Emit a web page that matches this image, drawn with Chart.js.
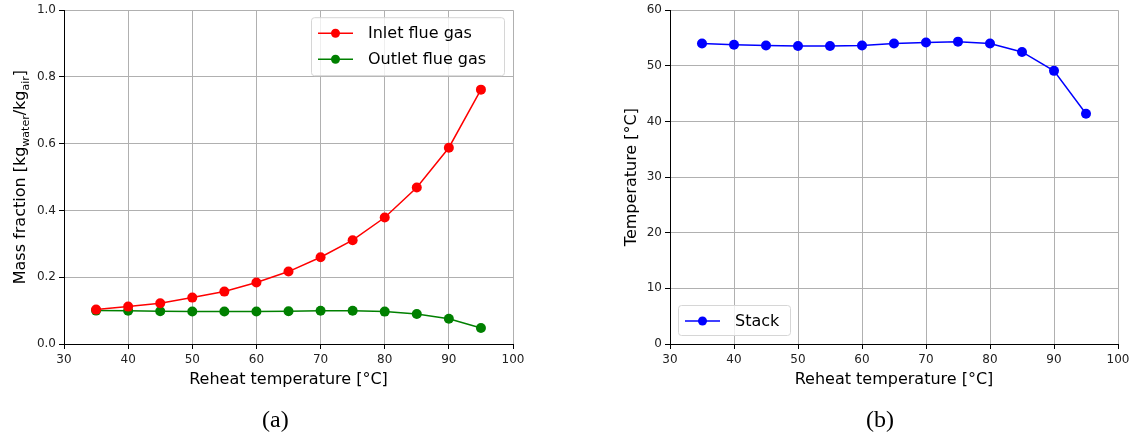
<!DOCTYPE html>
<html>
<head>
<meta charset="utf-8">
<script src="https://cdn.jsdelivr.net/npm/chart.js@4.4.1/dist/chart.umd.min.js"></script>
<style>
  html, body { margin: 0; padding: 0; background: #fff; }
  #wrap { position: relative; width: 1136px; height: 443px; overflow: hidden; }
  .panel { position: absolute; top: 0; width: 568px; height: 443px; }
  .caption { position: absolute; top: 406px; font-family: "Liberation Serif", "Times New Roman", serif; font-size: 24px; color: #000; }
</style>
</head>
<body>
<div id="wrap">
  <div class="panel" style="left:0"><canvas id="chart-a" width="568" height="443"></canvas></div>
  <div class="panel" style="left:568px"><canvas id="chart-b" width="568" height="443"></canvas></div>
  <div class="caption" style="left:262px">(a)</div>
  <div class="caption" style="left:866px">(b)</div>
</div>
<script>
// Données
const reheatTemps = [35, 40, 45, 50, 55, 60, 65, 70, 75, 80, 85, 90, 95];
const inletFlueGas = [0.103, 0.112, 0.122, 0.139, 0.157, 0.184, 0.217, 0.260, 0.311, 0.379, 0.469, 0.588, 0.762];
const outletFlueGas = [0.100, 0.0995, 0.098, 0.0975, 0.0975, 0.0975, 0.098, 0.0995, 0.0995, 0.097, 0.090, 0.0755, 0.048];
const stackTemp = [54.0, 53.8, 53.65, 53.55, 53.55, 53.65, 54.0, 54.2, 54.35, 54.0, 52.5, 49.1, 41.4];

const xTicks = [30, 40, 50, 60, 70, 80, 90, 100];
const massTicks = [0.0, 0.2, 0.4, 0.6, 0.8, 1.0];
const tempTicks = [0, 10, 20, 30, 40, 50, 60];

const FONT = '"DejaVu Sans", sans-serif';

function toPoints(ys) {
    return reheatTemps.map((x, i) => ({ x: x, y: ys[i] }));
}

function lineSet(label, ys, color) {
    return {
        label: label,
        data: toPoints(ys),
        borderColor: color,
        backgroundColor: color,
        borderWidth: 1.5,
        pointRadius: 5,
        pointHoverRadius: 5,
        pointBorderWidth: 0,
        fill: false,
        tension: 0,
    };
}

// Légende dans la zone du graphique, style matplotlib
function legendPlugin(box) {
    return {
        id: 'boxLegend',
        afterDatasetsDraw(chart) {
            const ctx = chart.ctx;
            const a = chart.chartArea;
            const x = box.right ? a.right - box.right - box.w : a.left + box.left;
            const y = box.bottom ? a.bottom - box.bottom - box.h : a.top + box.top;
            ctx.save();
            ctx.fillStyle = 'rgba(255,255,255,0.8)';
            ctx.strokeStyle = '#d6d6d6';
            ctx.lineWidth = 1;
            ctx.beginPath();
            ctx.roundRect(x + 0.5, y + 0.5, box.w, box.h, 3);
            ctx.fill();
            ctx.stroke();
            ctx.font = '16px ' + FONT;
            ctx.textBaseline = 'middle';
            chart.data.datasets.forEach((ds, i) => {
                const cy = y + 16 + i * 26;
                ctx.strokeStyle = ds.borderColor;
                ctx.lineWidth = 1.5;
                ctx.beginPath();
                ctx.moveTo(x + 7, cy);
                ctx.lineTo(x + 42, cy);
                ctx.stroke();
                ctx.fillStyle = ds.borderColor;
                ctx.beginPath();
                ctx.arc(x + 24.5, cy, 4.5, 0, Math.PI * 2);
                ctx.fill();
                ctx.fillStyle = '#000';
                ctx.fillText(ds.label, x + 57, cy + 1);
            });
            ctx.restore();
        },
    };
}

// Titres des axes (avec indices)
function axisTitlePlugin(yParts, yTitleX) {
    return {
        id: 'axisTitles',
        afterDraw(chart) {
            const ctx = chart.ctx;
            const a = chart.chartArea;
            ctx.save();
            ctx.fillStyle = '#000';
            ctx.font = '16px ' + FONT;
            ctx.textAlign = 'center';
            ctx.textBaseline = 'alphabetic';
            ctx.fillText('Reheat temperature [°C]', (a.left + a.right) / 2, 384);

            // axe y, texte tourné
            ctx.translate(yTitleX, (a.top + a.bottom) / 2);
            ctx.rotate(-Math.PI / 2);
            ctx.textAlign = 'left';
            let total = 0;
            yParts.forEach(p => {
                ctx.font = (p.sub ? '11px ' : '16px ') + FONT;
                p.w = ctx.measureText(p.t).width;
                total += p.w;
            });
            let cx = -total / 2;
            yParts.forEach(p => {
                ctx.font = (p.sub ? '11px ' : '16px ') + FONT;
                ctx.fillText(p.t, cx, p.sub ? 4 : 0);
                cx += p.w;
            });
            ctx.restore();
        },
    };
}

function makeChart(id, datasets, yMin, yMax, yTickList, yDecimals, plotLeft, plotRight, plugins) {
    const ctx = document.getElementById(id).getContext('2d');
    return new Chart(ctx, {
        type: 'line',
        data: { datasets: datasets },
        options: {
            responsive: false,
            animation: false,
            events: [],
            layout: { padding: { left: 0, right: 568 - plotRight, top: 10, bottom: 0 }, autoPadding: false },
            plugins: { legend: { display: false }, tooltip: { enabled: false } },
            scales: {
                x: {
                    type: 'linear',
                    min: 30,
                    max: 100,
                    afterBuildTicks(axis) { axis.ticks = xTicks.map(v => ({ value: v })); },
                    afterFit(axis) { axis.height = 443 - 10 - 334; },
                    ticks: { color: '#222', font: { family: FONT, size: 12 }, padding: 4, maxRotation: 0 },
                    grid: { color: '#b0b0b0', lineWidth: 1, tickColor: '#000', tickLength: 5 },
                    border: { color: '#000', width: 1 },
                },
                y: {
                    type: 'linear',
                    min: yMin,
                    max: yMax,
                    afterBuildTicks(axis) { axis.ticks = yTickList.map(v => ({ value: v })); },
                    afterFit(axis) { axis.width = plotLeft; },
                    ticks: {
                        color: '#222',
                        font: { family: FONT, size: 12 },
                        padding: 3,
                        callback: v => v.toFixed(yDecimals),
                    },
                    grid: { color: '#b0b0b0', lineWidth: 1, tickColor: '#000', tickLength: 5 },
                    border: { color: '#000', width: 1 },
                },
            },
        },
        plugins: plugins,
    });
}

makeChart('chart-a',
    [lineSet('Inlet flue gas', inletFlueGas, '#ff0000'), lineSet('Outlet flue gas', outletFlueGas, '#008000')],
    0, 1, massTicks, 1, 64, 513,
    [
        legendPlugin({ right: 9, top: 7, w: 193, h: 58 }),
        axisTitlePlugin([
            { t: 'Mass fraction [kg' },
            { t: 'water', sub: true },
            { t: '/kg' },
            { t: 'air', sub: true },
            { t: ']' },
        ], 25),
    ]);

makeChart('chart-b',
    [lineSet('Stack', stackTemp, '#0000ff')],
    0, 60, tempTicks, 0, 102, 550,
    [
        legendPlugin({ left: 8, bottom: 9, w: 112, h: 30 }),
        axisTitlePlugin([{ t: 'Temperature [°C]' }], 68),
    ]);
</script>
</body>
</html>
